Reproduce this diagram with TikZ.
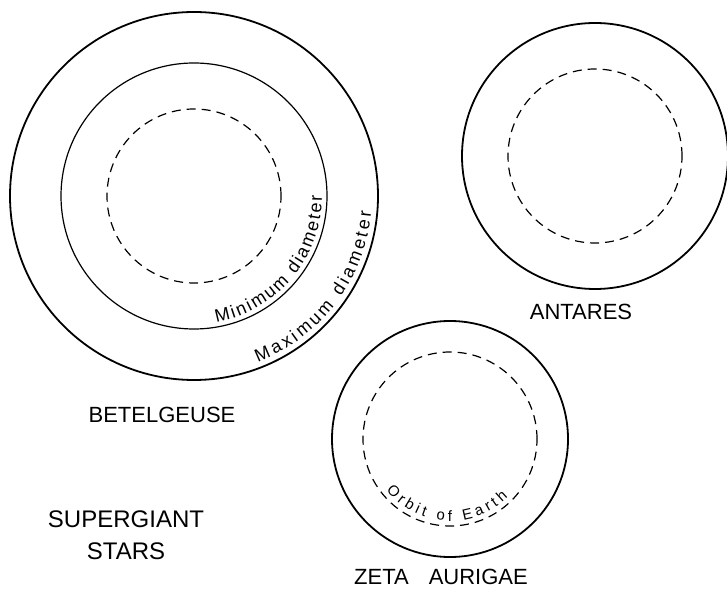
\documentclass[tikz,border=0pt]{standalone}
\usepackage{fontspec}
\setmainfont{Liberation Sans}
\usetikzlibrary{decorations.text}

\begin{document}
\begin{tikzpicture}[
  x=1pt, y=1pt,
  star/.style={draw, line width=1.8pt},
  limb/.style={draw, line width=1.2pt},
  orbit/.style={draw, line width=1.2pt, dash pattern=on 9pt off 6pt},
  starname/.style={font=\fontsize{22}{32}\selectfont, inner sep=0pt, align=center},
  arclabel/.style={decorate, decoration={text along path, text align=fit to path, text={#1}}}
]
\useasboundingbox (0,0) rectangle (727,589);

\coordinate (bet) at (194,393);
\coordinate (ant) at (595,433);
\coordinate (zeta) at (450,150);

\draw[star] (bet) circle[radius=184];
\draw[limb] (bet) circle[radius=133];
\draw[orbit] (bet) circle[radius=87];
\draw[star] (ant) circle[radius=133];
\draw[orbit] (ant) circle[radius=87];
\draw[star] (zeta) circle[radius=118];
\draw[orbit] (zeta) circle[radius=87];

\path[arclabel={|\fontsize{18}{20}\selectfont|Minimum diameter}]
  (bet) ++(-80:128) arc[start angle=-80, end angle=0, radius=128];
\path[arclabel={|\fontsize{18}{20}\selectfont|Maximum diameter}]
  (bet) ++(-69:178) arc[start angle=-69, end angle=-5, radius=178];
\path[arclabel={|\fontsize{15}{17}\selectfont|Orbit of Earth}]
  (zeta) ++(-141:82) arc[start angle=-141, end angle=-45, radius=82];

\node[starname] (betelgeuse) at (162,174) {BETELGEUSE};
\node[starname] (antares) at (581,277) {ANTARES};
\node[starname] (aurigae) at (441,12) {ZETA\hspace{20pt}AURIGAE};
\node[starname, font=\fontsize{24}{32}\selectfont] (title) at (126,54) {SUPERGIANT\\STARS};
\end{tikzpicture}
\end{document}
